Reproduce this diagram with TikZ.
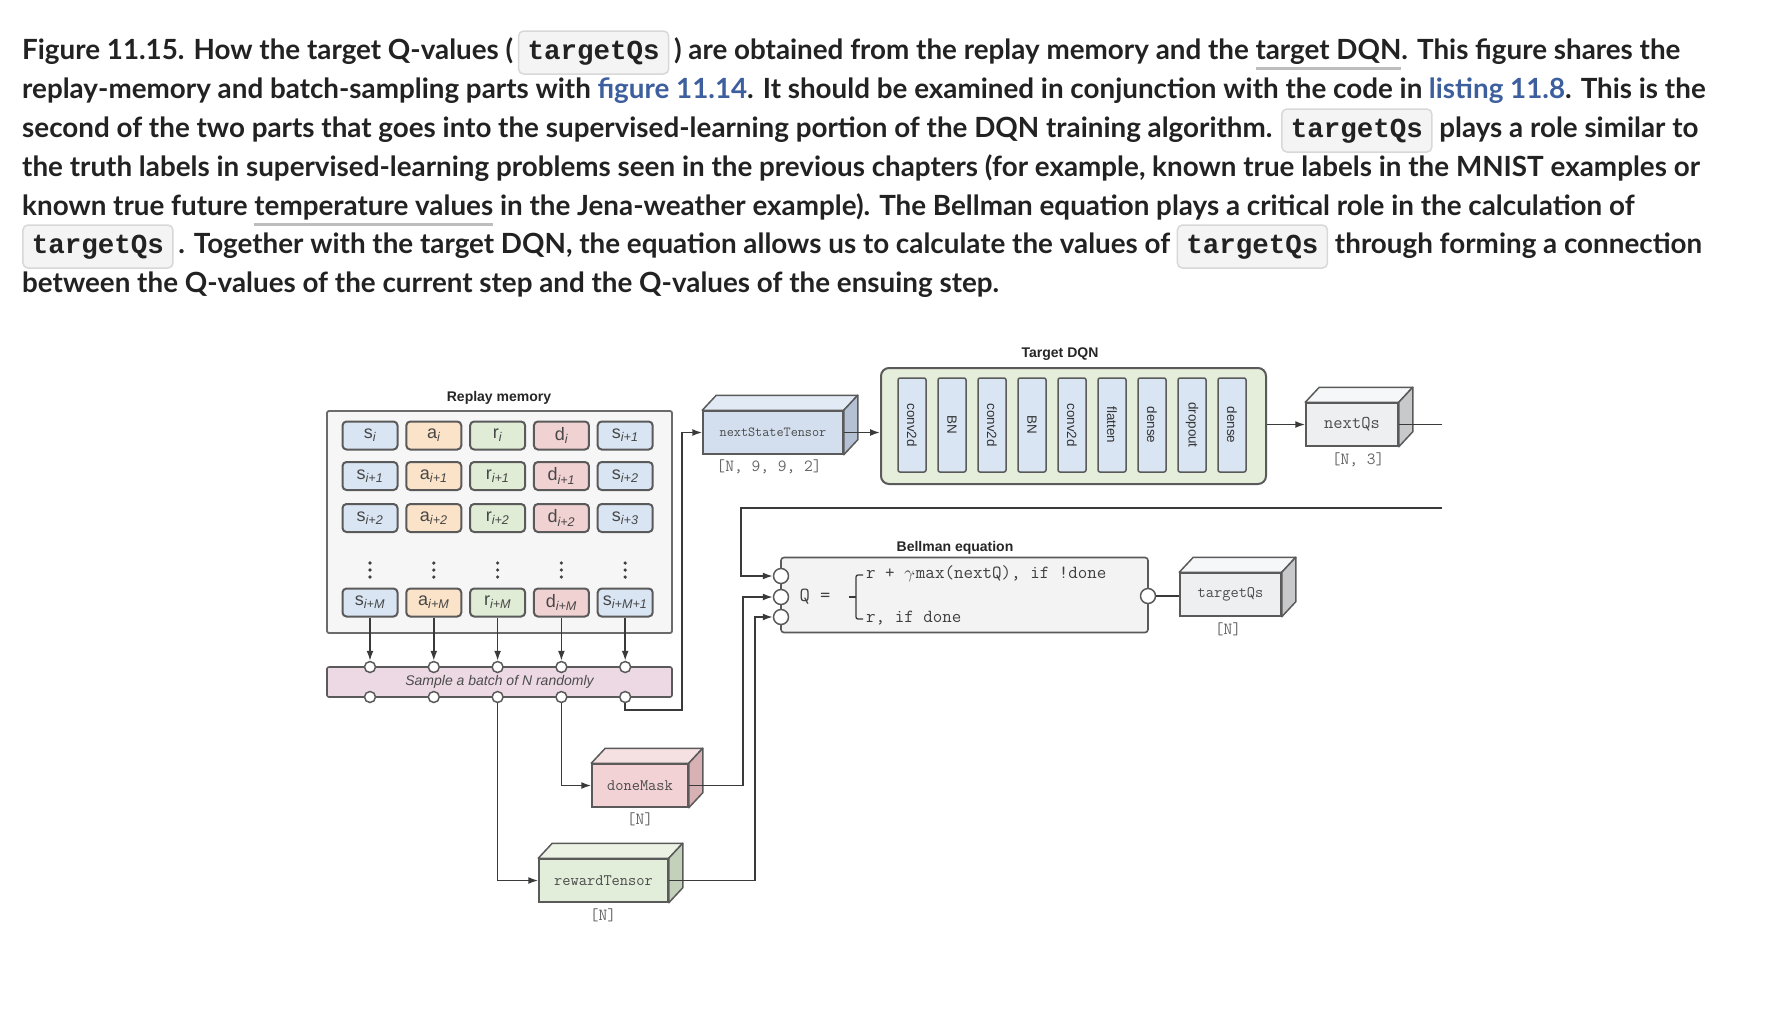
\documentclass[tikz,border=0pt]{standalone}
\usepackage{fontspec}
\setmainfont{Lato}
\newfontfamily\labelfont{Liberation Sans}
\newfontfamily\codefont{Liberation Mono}
\usepackage{xcolor}
\usetikzlibrary{positioning, calc, arrows.meta}

% caption colours
\definecolor{captext}{HTML}{222222}
\definecolor{linkblue}{HTML}{3E5F9E}
\definecolor{ulgray}{HTML}{BDBDBD}
\definecolor{codebg}{HTML}{F4F4F4}
\definecolor{codeline}{HTML}{D8D8D8}
% diagram colours
\definecolor{wirecol}{HTML}{3A3A3A}
\definecolor{edgecol}{HTML}{5A5A5A}
\definecolor{memfill}{HTML}{F6F6F6}
\definecolor{sblue}{HTML}{D9E5F3}
\definecolor{aorange}{HTML}{FAE3C9}
\definecolor{rgreen}{HTML}{E0ECD6}
\definecolor{dpink}{HTML}{F1D2D2}
\definecolor{samplefill}{HTML}{EDD9E4}
\definecolor{dqnfill}{HTML}{E5EEDB}
\definecolor{bellfill}{HTML}{F3F3F3}
\definecolor{nstfront}{HTML}{D3DFEE}
\definecolor{nsttop}{HTML}{E2EAF5}
\definecolor{nstside}{HTML}{B4C0D4}
\definecolor{grayfront}{HTML}{EEEFF1}
\definecolor{graytop}{HTML}{F6F7F8}
\definecolor{grayside}{HTML}{C8C9CB}
\definecolor{pinkfront}{HTML}{F2D2D4}
\definecolor{pinktop}{HTML}{F6E1E2}
\definecolor{pinkside}{HTML}{D7B1B4}
\definecolor{greenfront}{HTML}{E2EDDA}
\definecolor{greentop}{HTML}{ECF3E5}
\definecolor{greenside}{HTML}{C3D1BA}

\newcommand\capfont{\fontsize{27.8}{32}\selectfont\bfseries}
\newcommand\sub[1]{\textsubscript{\itshape #1}}
\newcommand\grayul[1]{\setbox0\hbox{#1}\rlap{\color{ulgray}\rule[-11pt]{\wd0}{3pt}}\box0\relax}
\newcommand\code[1]{\tikz[baseline=(cb.base)]\node[codebox] (cb) {#1};}
% top and side faces of a tensor box
\newcommand\boxfaces[3]{%
  \draw[faceline, fill=#2] (#1.north west) -- ++(14,-15) -- ($(#1.north east)+(14,-15)$) -- (#1.north east) -- cycle;
  \draw[faceline, fill=#3] (#1.north east) -- ++(14,-15) -- ($(#1.south east)+(14,-15)$) -- (#1.south east) -- cycle;}

\tikzset{
  capline/.style={anchor=base west, inner sep=0pt, font=\capfont, text=captext},
  codebox/.style={draw=codeline, fill=codebg, line width=1.5pt, rounded corners=5pt,
    inner xsep=9pt, inner ysep=8pt, text height=20pt, text depth=7pt,
    font=\codefont\bfseries\fontsize{27.5}{27.5}\selectfont, text=captext},
  title/.style={font=\labelfont\bfseries\fontsize{14}{14}\selectfont, text=black!85},
  membox/.style={draw=edgecol!90, fill=memfill, line width=1.8pt, rounded corners=2pt,
    minimum width=345pt, minimum height=222pt},
  cell/.style={draw=edgecol, line width=2pt, rounded corners=4pt, minimum width=55pt,
    minimum height=28pt, inner sep=0pt, font=\labelfont\fontsize{18}{18}\selectfont, text=black!72},
  samplebar/.style={draw=edgecol, fill=samplefill, line width=1.6pt, rounded corners=2pt,
    minimum width=345pt, minimum height=30pt, font=\labelfont\itshape\fontsize{14}{14}\selectfont, text=black!70},
  port/.style={circle, draw=edgecol, fill=white, line width=1.5pt, minimum size=11pt, inner sep=0pt},
  bigport/.style={port, minimum size=15pt},
  wire/.style={draw=wirecol, line width=1.6pt},
  arr/.style={wire, -{Latex[length=10pt,width=7pt]}},
  dqnbox/.style={draw=edgecol, fill=dqnfill, line width=2pt, rounded corners=8pt,
    minimum width=385pt, minimum height=116pt},
  layer/.style={draw=edgecol, fill=sblue, line width=1.5pt, rounded corners=2pt, rotate=-90,
    minimum width=94pt, minimum height=28pt, inner sep=0pt,
    font=\labelfont\fontsize{13.4}{13.4}\selectfont, text=black!80},
  tensor/.style={draw=edgecol, line width=1.5pt, inner sep=0pt, minimum height=43pt,
    font=\ttfamily\fontsize{16}{16}\selectfont, text=black!70},
  faceline/.style={draw=edgecol, line width=1.5pt, line join=round},
  dims/.style={inner sep=0pt, font=\ttfamily\fontsize{17}{17}\selectfont, text=black!60},
  bellbox/.style={draw=edgecol, fill=bellfill, line width=1.6pt, rounded corners=3pt,
    minimum width=367pt, minimum height=75pt},
  eqtext/.style={inner sep=0pt, font=\ttfamily\fontsize{18.5}{18.5}\selectfont, text=black!75}
}

\begin{document}
\begin{tikzpicture}[x=1pt, y=-1pt]

    % page
    \fill[white] (0,0) rectangle (1766,1010);
    \useasboundingbox (0,0) rectangle (1766,1010);

    % Caption, one node per printed line
    \node[capline] (cap1) at (22,59) {Figure 11.15. How the target Q-values (\,\code{targetQs}\,) are obtained from the replay memory and the \grayul{target DQN}. This figure shares the};
    \node[capline] (cap2) at (22,98) {replay-memory and batch-sampling parts with \textcolor{linkblue}{figure 11.14}. It should be examined in conjunction with the code in \textcolor{linkblue}{listing 11.8}. This is the};
    \node[capline] (cap3) at (22,137) {second of the two parts that goes into the supervised-learning portion of the DQN training algorithm. \code{targetQs} plays a role similar to};
    \node[capline] (cap4) at (22,176) {the truth labels in supervised-learning problems seen in the previous chapters (for example, known true labels in the MNIST examples or};
    \node[capline] (cap5) at (22,215) {known true future \grayul{temperature values} in the Jena-weather example). The Bellman equation plays a critical role in the calculation of};
    \node[capline] (cap6) at (22,253) {\code{targetQs}\,. Together with the target DQN, the equation allows us to calculate the values of \code{targetQs} through forming a connection};
    \node[capline] (cap7) at (22,292) {between the Q-values of the current step and the Q-values of the ensuing step.};

    % Replay memory frame
    \node[title] (memtitle) at (499,398) {Replay memory};
    \node[membox] (mem) at (499.5,522) {};

    % Stored transitions: first three rows
    \node[cell, fill=sblue]   (s1)  at (370,435.5)   {s\sub{i}};
    \node[cell, fill=aorange] (a1)  at (433.8,435.5) {a\sub{i}};
    \node[cell, fill=rgreen]  (r1)  at (497.6,435.5) {r\sub{i}};
    \node[cell, fill=dpink]   (d1)  at (561.4,435.5) {d\sub{i}};
    \node[cell, fill=sblue]   (sn1) at (625.2,435.5) {s\sub{i+1}};

    \node[cell, fill=sblue]   (s2)  at (370,476)   {s\sub{i+1}};
    \node[cell, fill=aorange] (a2)  at (433.8,476) {a\sub{i+1}};
    \node[cell, fill=rgreen]  (r2)  at (497.6,476) {r\sub{i+1}};
    \node[cell, fill=dpink]   (d2)  at (561.4,476) {d\sub{i+1}};
    \node[cell, fill=sblue]   (sn2) at (625.2,476) {s\sub{i+2}};

    \node[cell, fill=sblue]   (s3)  at (370,518)   {s\sub{i+2}};
    \node[cell, fill=aorange] (a3)  at (433.8,518) {a\sub{i+2}};
    \node[cell, fill=rgreen]  (r3)  at (497.6,518) {r\sub{i+2}};
    \node[cell, fill=dpink]   (d3)  at (561.4,518) {d\sub{i+2}};
    \node[cell, fill=sblue]   (sn3) at (625.2,518) {s\sub{i+3}};

    % Vertical ellipses
    \foreach \xx in {370,433.8,497.6,561.4,625.2}
        \foreach \yy in {563,570,577}
            \fill[black!75] (\xx,\yy) circle (1.8);

    % Last stored row
    \node[cell, fill=sblue]   (sM)  at (370,602.5)   {s\sub{i+M}};
    \node[cell, fill=aorange] (aM)  at (433.8,602.5) {a\sub{i+M}};
    \node[cell, fill=rgreen]  (rM)  at (497.6,602.5) {r\sub{i+M}};
    \node[cell, fill=dpink]   (dM)  at (561.4,602.5) {d\sub{i+M}};
    \node[cell, fill=sblue]   (snM) at (625.2,602.5) {s\sub{i+M+1}};

    % Batch sampling bar with its ports
    \node[samplebar] (batch) at (499.5,682) {Sample a batch of \textit{N} randomly};
    \foreach \xx [count=\k] in {370,433.8,497.6,561.4,625.2} {
        \node[port] (t\k) at (\xx,667) {};
        \node[port] (b\k) at (\xx,697) {};
    }
    \draw[arr] (sM)  -- (t1);
    \draw[arr] (aM)  -- (t2);
    \draw[arr] (rM)  -- (t3);
    \draw[arr] (dM)  -- (t4);
    \draw[arr] (snM) -- (t5);

    % Next states go to the target DQN
    \node[tensor, fill=nstfront, minimum width=140pt, font=\ttfamily\fontsize{13.8}{13.8}\selectfont] (nst) at (773,432.5) {nextStateTensor};
    \boxfaces{nst}{nsttop}{nstside}
    \node[dims] (nstdim) at (769,467) {[N, 9, 9, 2]};
    \coordinate (loopA) at (682,710);
    \draw[arr] (b5) |- (loopA) |- (nst.west);

    % Target DQN layers
    \node[title] (dqntitle) at (1060,354) {Target DQN};
    \node[dqnbox] (dqn) at (1073.5,426) {};
    \foreach \lab [count=\k from 0] in {conv2d,BN,conv2d,BN,conv2d,flatten,dense,dropout,dense}
        \node[layer] (L\k) at ({912+40*\k},425) {\lab};
    \draw[arr] (nst.east) -- (nst.east -| dqn.west);

    % Output Q-values of the next step
    \node[tensor, fill=grayfront, minimum width=92pt, font=\ttfamily\fontsize{18}{18}\selectfont] (nq) at (1352,424.5) {nextQs};
    \boxfaces{nq}{graytop}{grayside}
    \node[dims] (nqdim) at (1358,460) {[N, 3]};
    \draw[arr] (dqn.east |- nq.west) -- (nq.west);
    \coordinate (nqout) at (1442,424.5);
    \draw[wire] (nq.east) -- (nqout);

    % Bellman equation
    \node[title] (belltitle) at (955,548) {Bellman equation};
    \node[bellbox] (bell) at (964.5,595) {};
    \node[bigport] (q1) at (781,576) {};
    \node[bigport] (q2) at (781,597) {};
    \node[bigport] (q3) at (781,617) {};
    \node[bigport] (qo) at (1148,596) {};
    \node[eqtext, font=\ttfamily\fontsize{20}{20}\selectfont] (qeq) at (815,597) {Q =};
    \draw[wire, line width=1.3pt, rounded corners=2pt] (863,575) -- (856,575) -- (856,619) -- (863,619);
    \draw[wire, line width=1.3pt] (849,597) -- (856,597);
    \node[eqtext, anchor=west] (eq1) at (866,574) {r + $\gamma\!\cdot$max(nextQ), if !done};
    \node[eqtext, anchor=west] (eq2) at (866,618) {r, if done};

    % nextQs fed back into the equation
    \coordinate (nqback) at (1442,508);
    \coordinate (bendq) at (741,508);
    \draw[arr] (nqback) -- (bendq) |- (q1);

    % Target Q-values
    \node[tensor, fill=grayfront, minimum width=101pt] (tq) at (1230.5,594.5) {targetQs};
    \boxfaces{tq}{graytop}{grayside}
    \node[dims] (tqdim) at (1228,629) {[N]};
    \draw[wire] (qo) -- (qo -| tq.west);

    % Done mask
    \node[tensor, fill=pinkfront, minimum width=96pt] (dm) at (640,785.5) {doneMask};
    \boxfaces{dm}{pinktop}{pinkside}
    \node[dims] (dmdim) at (640,819) {[N]};
    \draw[arr] (b4) |- (dm.west);
    \coordinate (dmturn) at (743,785.5);
    \draw[arr] (dm.east) -- (dmturn) |- (q2);

    % Rewards
    \node[tensor, fill=greenfront, minimum width=129pt] (rt) at (603.5,880.5) {rewardTensor};
    \boxfaces{rt}{greentop}{greenside}
    \node[dims] (rtdim) at (603,915) {[N]};
    \draw[arr] (b3) |- (rt.west);
    \coordinate (rtturn) at (755,880.5);
    \draw[arr] (rt.east) -- (rtturn) |- (q3);

\end{tikzpicture}
\end{document}
